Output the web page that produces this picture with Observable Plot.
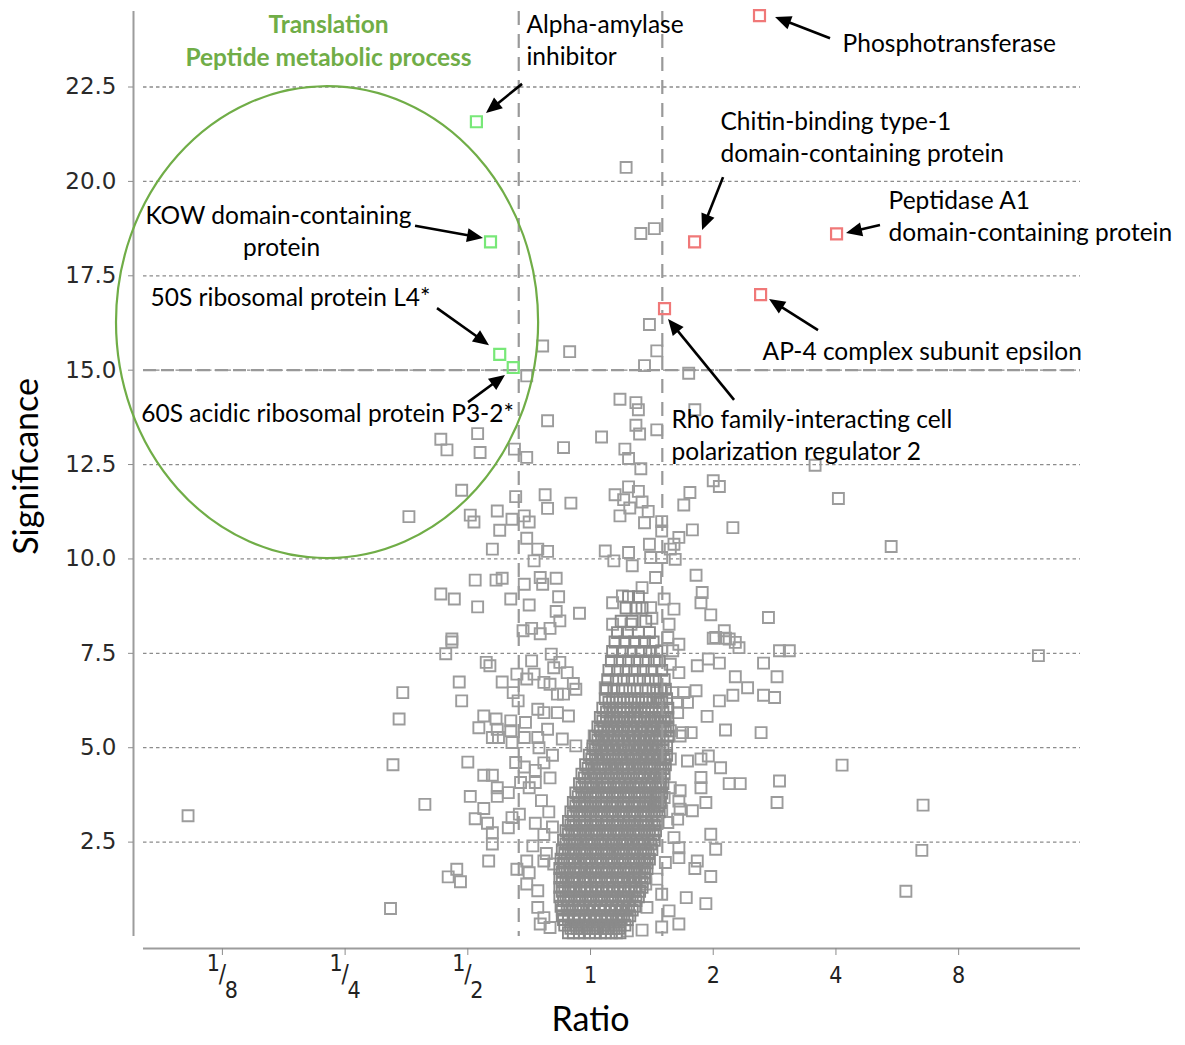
<!DOCTYPE html>
<html><head><meta charset="utf-8">
<script src="https://cdn.jsdelivr.net/npm/d3@7"></script>
<script src="https://cdn.jsdelivr.net/npm/@observablehq/plot@0.6"></script>
<style>body{margin:0;background:#fff} #chart svg{display:block}</style>
</head><body><div id="chart"></div>
<script>
// ---- axis ticks (x = log2 ratio) ----
const yTicks = [2.5, 5, 7.5, 10, 12.5, 15, 17.5, 20, 22.5];
const fracTicks = [-3, -2, -1];
const fracDen = ["8", "4", "2"];
const intTicks = [0, 1, 2, 3];
const intLabels = ["1", "2", "4", "8"];
const foldLines = [-0.585, 0.585];
const sigLine = [15];

// ---- highlighted proteins [log2 ratio, significance] ----
const greenPoints = [[-0.93, 21.58], [-0.815, 18.40], [-0.74, 15.42], [-0.63, 15.07]];
const redPoints = [[1.377, 24.39], [0.848, 18.40], [2.005, 18.61], [1.386, 17.0], [0.603, 16.63]];

// ---- scattered proteins [log2 ratio, significance] ----
const grayPoints = [
[-0.39,15.64],[-0.17,15.49],[-0.52,14.85],[-0.35,13.66],[-1.22,13.17],[-1.17,12.89],[-0.92,13.32],[-0.90,12.82],[-0.62,12.91],[-0.52,12.69],
[-0.22,12.95],[-1.05,11.82],[-0.61,11.65],[-0.37,11.70],[-0.35,11.34],[-0.16,11.48],[-1.48,11.12],[-0.98,11.16],[-0.95,10.98],[-0.76,11.27],
[-0.64,11.05],[-0.54,11.14],[-0.50,10.98],[-0.74,10.76],[-0.52,10.55],[-0.80,10.26],[-0.43,10.26],[-0.35,10.20],[-0.46,9.95],[-0.94,9.44],
[-0.77,9.44],[-0.72,9.49],[-0.54,9.33],[-0.41,9.51],[-0.39,9.33],[-0.28,9.49],[-1.22,9.07],[-1.11,8.94],[-0.92,8.73],[-0.65,8.94],
[-0.50,8.78],[-0.26,9.00],[-0.28,8.61],[-0.09,8.56],[-0.25,8.36],[-0.55,8.10],[-0.48,8.16],[-0.41,8.02],[-0.33,8.16],[-1.13,7.88],
[0.54,15.51],[0.44,15.12],[0.80,14.92],[0.24,14.23],[0.37,14.14],[0.39,13.95],[0.85,13.95],[0.37,13.54],[0.09,13.23],[0.40,13.31],
[0.54,13.42],[0.28,12.91],[0.31,12.66],[0.41,12.39],[1.00,12.07],[1.05,11.92],[0.31,11.91],[0.20,11.70],[0.39,11.79],[0.81,11.76],
[0.27,11.57],[0.42,11.51],[0.76,11.43],[0.47,11.26],[0.24,11.14],[0.32,11.35],[0.44,10.96],[0.58,10.99],[0.58,10.74],[0.83,10.77],
[1.16,10.83],[0.72,10.57],[0.68,10.39],[0.12,10.21],[0.31,10.17],[0.48,10.39],[0.65,10.26],[0.19,9.95],[0.34,9.82],[0.49,10.04],
[0.58,10.04],[0.69,9.99],[0.53,9.51],[0.86,9.57],[0.42,9.24],[0.26,9.02],[0.18,8.84],[0.91,9.11],[0.90,8.84],[0.49,8.71],
[0.60,8.94],[0.68,8.67],[0.98,8.52],[1.45,8.45],[0.18,8.27],[0.33,8.27],[0.50,8.43],[0.64,8.27],[1.02,7.92],[1.09,8.10],[1.13,7.88],
[-1.13,7.80],[-1.18,7.49],[-0.85,7.26],[-0.82,7.17],[-1.07,6.74],[-1.53,6.46],[-1.05,6.24],[-0.72,6.74],[-0.63,6.46],[-0.59,6.24],
[-0.60,6.95],[-0.48,7.30],[-0.46,6.95],[-0.32,7.48],[-0.30,7.12],[-0.25,7.26],[-0.19,6.99],[-0.14,6.70],[-0.12,6.55],[-0.52,6.82],
[-0.38,6.73],[-0.33,6.68],[-0.27,6.42],[-0.22,6.42],[-1.56,5.76],[-0.87,5.84],[-0.91,5.53],[-0.77,5.76],[-0.76,5.49],[-0.80,5.27],
[-0.75,5.27],[-0.65,5.71],[-0.65,5.45],[-0.64,5.14],[-0.53,5.67],[-0.43,6.02],[-0.38,5.93],[-0.27,5.93],[-0.18,5.84],[-0.35,5.49],
[-0.54,5.27],[-0.43,5.27],[-0.23,5.23],[-0.12,5.05],[-1.61,4.55],[-1.00,4.62],[-0.61,4.61],[-0.54,4.49],[-0.87,4.27],[-0.80,4.27],
[-0.76,3.94],[-0.67,3.81],[-0.76,3.71],[-0.57,4.08],[-0.50,3.94],[-0.45,4.08],[-0.98,3.71],[-1.35,3.50],[-0.87,3.39],[-0.94,3.12],
[-0.84,3.00],[-0.80,2.75],[-0.80,2.45],[-0.67,2.88],[-0.64,3.15],[-0.58,3.24],[-0.83,2.00],[-1.09,1.78],[-1.16,1.58],[-1.06,1.45],
[-1.63,0.74],[-0.60,1.78],[-0.52,2.00],[-0.50,1.69],[-0.52,1.39],[-0.43,1.21],[-0.43,0.77],[-0.38,0.50],[-0.41,0.33],[-0.33,0.24],
[-0.38,2.00],[-0.30,1.92],[-0.45,4.40],[-0.38,4.60],[-0.33,4.20],[-0.40,3.60],[-0.34,3.30],[-0.45,3.00],[-0.38,2.70],[-0.31,2.90],
[-0.47,2.40],[-0.36,2.20],[-0.42,5.00],[-0.31,4.80],
[1.54,7.57],[1.62,7.57],[1.41,7.24],[1.52,6.88],[1.41,6.39],[1.50,6.33],[1.39,5.40],[1.54,4.12],[1.52,3.55],[1.00,7.90],
[1.10,7.90],[1.18,7.79],[1.21,7.65],[0.87,7.17],[0.96,7.35],[1.05,7.24],[1.18,6.88],[1.28,6.59],[1.16,6.39],[1.05,6.24],
[0.86,6.51],[0.76,6.46],[0.67,6.46],[0.95,5.83],[1.10,5.47],[0.82,5.40],[0.73,5.31],[0.96,4.78],[1.06,4.47],[0.90,4.70],
[0.79,4.65],[0.90,4.21],[0.90,3.94],[1.13,4.05],[1.22,4.05],[0.94,3.55],[0.83,3.33],[0.72,3.59],[0.73,3.37],[0.98,2.71],
[1.02,2.31],[0.87,2.00],[0.85,1.80],[0.98,1.59],[0.72,2.35],[0.72,2.09],[0.61,1.96],[0.78,1.03],[0.94,0.87],[0.72,0.33],
[0.58,0.25],[0.42,0.17],[0.30,0.15],[0.64,0.68],[0.58,1.12],[0.54,1.52],[0.45,1.39],[0.46,0.77],[0.44,2.00],[0.68,2.62],
[0.63,3.02],[0.71,3.11],[0.58,3.33],[0.73,3.86],[0.65,3.94],[0.60,3.68],[0.65,4.70],[0.57,4.39],[0.75,5.40],[0.65,5.45],
[0.61,5.80],[0.71,5.93],[0.54,6.46],[0.56,6.20],[0.71,6.20],[0.79,6.20],[0.72,6.99],[0.65,7.21],[0.72,7.74],[0.63,7.92],
[0.58,7.57],[0.67,7.57],[0.12,6.59],[0.03,5.31],[0.11,5.31],[0.02,4.97],
[-3.28,3.20],[3.65,7.44],[2.71,3.48],[2.70,2.28],[2.57,1.20],[2.45,10.33],[2.02,11.60],[1.83,12.48],[2.05,4.54],
[0.29,20.37],[0.41,18.62],[0.52,18.75],[0.48,16.21]
];

// ---- dense core: each row is [significance, log2 ratios...] ----
const coreRows = [
[0.10,-0.18,-0.14,-0.09,-0.05,-0.01,0.04,0.08,0.12,0.17,0.21,0.24],
[0.22,-0.16,-0.11,-0.07,-0.03,0.02,0.06,0.10,0.14,0.19,0.23],
[0.30,-0.21,-0.16,-0.12,-0.07,-0.03,0.02,0.06,0.11,0.15,0.19,0.24,0.28],
[0.45,-0.22,-0.18,-0.14,-0.10,-0.05,-0.01,0.03,0.08,0.12,0.17,0.21,0.25,0.30],
[0.55,-0.23,-0.18,-0.13,-0.09,-0.04,0.00,0.05,0.09,0.14,0.18,0.23,0.27,0.32],
[0.70,-0.23,-0.17,-0.12,-0.08,-0.03,0.02,0.07,0.11,0.16,0.20,0.24,0.29,0.34],
[0.80,-0.24,-0.19,-0.15,-0.10,-0.06,-0.01,0.03,0.08,0.12,0.17,0.21,0.26,0.31,0.36],
[0.95,-0.22,-0.18,-0.13,-0.09,-0.04,0.00,0.05,0.09,0.14,0.18,0.23,0.27,0.32,0.37],
[1.05,-0.25,-0.20,-0.16,-0.11,-0.07,-0.02,0.02,0.07,0.11,0.16,0.20,0.25,0.29,0.34,0.39],
[1.20,-0.23,-0.18,-0.14,-0.09,-0.05,0.00,0.04,0.09,0.13,0.18,0.22,0.27,0.31,0.36,0.40],
[1.30,-0.25,-0.21,-0.16,-0.12,-0.08,-0.03,0.01,0.06,0.10,0.15,0.19,0.24,0.28,0.33,0.37,0.42],
[1.45,-0.23,-0.18,-0.13,-0.09,-0.05,0.00,0.05,0.09,0.14,0.18,0.23,0.27,0.32,0.37,0.42],
[1.55,-0.25,-0.20,-0.15,-0.11,-0.06,-0.02,0.03,0.07,0.12,0.16,0.21,0.25,0.30,0.35,0.40,0.44],
[1.70,-0.23,-0.19,-0.14,-0.10,-0.05,0.00,0.04,0.09,0.13,0.18,0.22,0.27,0.31,0.36,0.40,0.44],
[1.80,-0.25,-0.21,-0.17,-0.12,-0.08,-0.03,0.02,0.06,0.11,0.15,0.20,0.24,0.29,0.33,0.38,0.42,0.46],
[1.95,-0.22,-0.17,-0.13,-0.08,-0.03,0.01,0.06,0.10,0.15,0.19,0.24,0.28,0.33,0.37,0.42,0.46],
[2.05,-0.24,-0.19,-0.15,-0.10,-0.05,-0.01,0.04,0.08,0.13,0.17,0.22,0.26,0.31,0.35,0.40,0.44,0.48],
[2.20,-0.21,-0.16,-0.12,-0.07,-0.03,0.02,0.06,0.11,0.15,0.20,0.25,0.29,0.34,0.38,0.43,0.47],
[2.30,-0.23,-0.18,-0.14,-0.09,-0.05,0.00,0.04,0.09,0.13,0.18,0.23,0.27,0.32,0.36,0.41,0.45,0.50],
[2.45,-0.20,-0.15,-0.11,-0.06,-0.01,0.03,0.08,0.12,0.17,0.21,0.26,0.30,0.35,0.40,0.44,0.49],
[2.55,-0.22,-0.17,-0.13,-0.08,-0.03,0.01,0.06,0.10,0.15,0.19,0.24,0.28,0.33,0.38,0.42,0.47,0.52],
[2.70,-0.18,-0.13,-0.09,-0.04,0.01,0.05,0.10,0.14,0.19,0.23,0.28,0.32,0.37,0.41,0.46,0.51],
[2.80,-0.20,-0.15,-0.11,-0.06,-0.02,0.03,0.07,0.12,0.16,0.21,0.25,0.30,0.35,0.39,0.44,0.48,0.53],
[2.95,-0.16,-0.12,-0.07,-0.03,0.02,0.06,0.11,0.15,0.20,0.24,0.29,0.34,0.38,0.43,0.47,0.52],
[3.05,-0.18,-0.14,-0.09,-0.05,0.00,0.04,0.09,0.13,0.18,0.22,0.27,0.31,0.36,0.41,0.45,0.50,0.55],
[3.20,-0.14,-0.09,-0.05,0.00,0.05,0.09,0.14,0.18,0.23,0.27,0.32,0.36,0.41,0.45,0.50,0.54],
[3.30,-0.16,-0.11,-0.07,-0.02,0.02,0.07,0.11,0.16,0.20,0.25,0.29,0.34,0.38,0.43,0.47,0.52,0.56],
[3.45,-0.12,-0.07,-0.03,0.02,0.07,0.11,0.16,0.20,0.25,0.29,0.34,0.38,0.43,0.47,0.51,0.55],
[3.55,-0.14,-0.09,-0.05,0.00,0.04,0.09,0.13,0.18,0.22,0.27,0.31,0.36,0.40,0.45,0.49,0.53,0.57],
[3.70,-0.10,-0.05,0.00,0.04,0.09,0.13,0.18,0.22,0.27,0.31,0.36,0.40,0.45,0.49,0.53,0.56],
[3.80,-0.12,-0.07,-0.03,0.02,0.06,0.11,0.15,0.20,0.24,0.29,0.33,0.38,0.42,0.47,0.51,0.55,0.58],
[3.95,-0.07,-0.02,0.02,0.07,0.12,0.16,0.21,0.25,0.30,0.35,0.39,0.44,0.48,0.53,0.57],
[4.05,-0.09,-0.04,0.00,0.05,0.10,0.14,0.19,0.23,0.28,0.32,0.37,0.41,0.46,0.50,0.55,0.59],
[4.20,-0.05,0.00,0.05,0.10,0.14,0.19,0.24,0.28,0.33,0.38,0.42,0.47,0.52,0.57],
[4.30,-0.07,-0.02,0.03,0.07,0.12,0.17,0.21,0.26,0.31,0.35,0.40,0.44,0.49,0.54,0.60],
[4.45,-0.02,0.03,0.08,0.12,0.17,0.22,0.27,0.31,0.36,0.41,0.46,0.50,0.55,0.59],
[4.55,-0.04,0.01,0.06,0.10,0.15,0.20,0.25,0.29,0.34,0.39,0.43,0.48,0.52,0.57,0.61],
[4.70,0.01,0.06,0.11,0.16,0.21,0.25,0.30,0.35,0.40,0.45,0.50,0.55,0.60],
[4.80,-0.01,0.04,0.09,0.14,0.18,0.23,0.28,0.33,0.37,0.42,0.47,0.52,0.57,0.62],
[4.95,0.04,0.09,0.14,0.19,0.24,0.29,0.34,0.39,0.44,0.49,0.54,0.59],
[5.05,0.02,0.07,0.12,0.17,0.22,0.27,0.31,0.36,0.41,0.46,0.51,0.56,0.62],
[5.20,0.06,0.11,0.16,0.22,0.27,0.32,0.37,0.43,0.48,0.53,0.59],
[5.30,0.04,0.09,0.14,0.19,0.25,0.30,0.35,0.40,0.45,0.50,0.56,0.63],
[5.45,0.08,0.14,0.19,0.24,0.30,0.35,0.41,0.46,0.51,0.57,0.61],
[5.55,0.06,0.11,0.17,0.22,0.27,0.33,0.38,0.43,0.49,0.54,0.59,0.63],
[5.70,0.10,0.16,0.21,0.27,0.32,0.38,0.44,0.49,0.55,0.60],
[5.80,0.08,0.13,0.19,0.24,0.30,0.35,0.41,0.46,0.52,0.57,0.63],
[5.95,0.13,0.18,0.24,0.30,0.36,0.41,0.47,0.53,0.59],
[6.05,0.10,0.16,0.21,0.27,0.33,0.38,0.44,0.50,0.56,0.63],
[6.20,0.15,0.21,0.27,0.33,0.39,0.45,0.51,0.58],
[6.30,0.12,0.18,0.24,0.30,0.36,0.42,0.48,0.55,0.62],
[6.55,0.13,0.19,0.26,0.32,0.38,0.45,0.51,0.57,0.61],
[6.80,0.14,0.21,0.27,0.34,0.40,0.47,0.53,0.60],
[7.05,0.15,0.22,0.29,0.36,0.43,0.50,0.58],
[7.30,0.17,0.24,0.31,0.38,0.45,0.52,0.56],
[7.55,0.18,0.26,0.33,0.41,0.48,0.54],
[7.80,0.20,0.28,0.36,0.44,0.51],
[8.05,0.22,0.30,0.39,0.48],
[8.35,0.25,0.34,0.45],
[8.70,0.29,0.37,0.42],
[9.00,0.31,0.39]
];

// ---- annotations (data units) ----
const startLabels = [
  {x: -0.522, y: 24.13, t: "Alpha-amylase"}, {x: -0.522, y: 23.28, t: "inhibitor"},
  {x: 2.054, y: 23.63, t: "Phosphotransferase"},
  {x: 1.059, y: 21.56, t: "Chitin-binding type-1"}, {x: 1.059, y: 20.71, t: "domain-containing protein"},
  {x: 2.429, y: 19.47, t: "Peptidase A1"}, {x: 2.429, y: 18.62, t: "domain-containing protein"},
  {x: 1.402, y: 15.49, t: "AP-4 complex subunit epsilon"},
  {x: 0.660, y: 13.67, t: "Rho family-interacting cell"}, {x: 0.660, y: 12.82, t: "polarization regulator 2"}
];
const middleLabels = [
  {x: -2.543, y: 19.07, t: "KOW domain-containing"}, {x: -2.518, y: 18.22, t: "protein"},
  {x: -2.445, y: 16.90, t: "50S ribosomal protein L4*"},
  {x: -2.143, y: 13.83, t: "60S acidic ribosomal protein P3-2*"}
];
const groupTitle = [{x: -2.135, y: 24.13, t: "Translation"}, {x: -2.135, y: 23.26, t: "Peptide metabolic process"}];
const arrows = [
  {x1: -0.554, y1: 22.57, x2: -0.848, y2: 21.80},
  {x1: 1.956, y1: 23.78, x2: 1.508, y2: 24.34},
  {x1: 1.084, y1: 20.10, x2: 0.913, y2: 18.70},
  {x1: 2.363, y1: 18.83, x2: 2.086, y2: 18.62},
  {x1: 1.858, y1: 16.05, x2: 1.459, y2: 16.87},
  {x1: 1.174, y1: 14.20, x2: 0.636, y2: 16.34},
  {x1: -1.426, y1: 18.81, x2: -0.872, y2: 18.49},
  {x1: -1.247, y1: 16.63, x2: -0.823, y2: 15.65},
  {x1: -0.994, y1: 14.14, x2: -0.693, y2: 14.86}
];
const groupEllipse = {cx: -2.143, cy: 16.26, rx: 1.72, ry: 6.25};

const corePoints = coreRows.flatMap(([s, ...xs]) => xs.map(x => [x, s]));
const x0 = -3.643, x1 = 3.993;
const lato = "Lato, 'Open Sans', sans-serif";
const tickFont = "'Liberation Sans Narrow', 'DejaVu Sans Condensed', 'Liberation Sans', sans-serif";

const ellipseMark = (index, scales) => {
  const cx = scales.x(groupEllipse.cx), cy = scales.y(groupEllipse.cy);
  const rx = Math.abs(scales.x(groupEllipse.cx + groupEllipse.rx) - cx);
  const ry = Math.abs(scales.y(groupEllipse.cy + groupEllipse.ry) - cy);
  return d3.create("svg:ellipse").attr("cx", cx).attr("cy", cy).attr("rx", rx).attr("ry", ry)
    .attr("fill", "none").attr("stroke", "#70ad47").attr("stroke-width", 2.2).node();
};
const arrowMark = (index, scales) => {
  const g = d3.create("svg:g");
  for (const a of arrows) {
    const ax = scales.x(a.x1), ay = scales.y(a.y1), bx = scales.x(a.x2), by = scales.y(a.y2);
    const dx = bx - ax, dy = by - ay, L = Math.hypot(dx, dy), ux = dx / L, uy = dy / L;
    const hl = 16, hw = 7;
    const cx = bx - ux * hl, cy = by - uy * hl;
    g.append("line").attr("x1", ax).attr("y1", ay).attr("x2", cx + ux * 2).attr("y2", cy + uy * 2)
      .attr("stroke", "black").attr("stroke-width", 2.6);
    g.append("polygon").attr("points", [[bx, by], [cx - uy * hw, cy + ux * hw], [cx + uy * hw, cy - ux * hw]].map(p => p.join(",")).join(" "))
      .attr("fill", "black");
  }
  return g.node();
};

const dotStyle = {x: d => d[0], y: d => d[1], symbol: "square", r: 6.2, fill: "none", strokeWidth: 1.9};
const allTicks = [...fracTicks, ...intTicks];

const chart = Plot.plot({
  width: 1185, height: 1045,
  marginLeft: 143, marginRight: 105, marginTop: 11, marginBottom: 109,
  x: {domain: [x0, x1], axis: null},
  y: {domain: [0, 24.5], axis: null},
  style: {background: "white", overflow: "visible"},
  marks: [
    Plot.ruleY(yTicks, {stroke: "#8c8c8c", strokeWidth: 1.3, strokeDasharray: "3.5,3"}),
    Plot.ruleY([0], {dy: 12, stroke: "#9c9c9c", strokeWidth: 2}),
    Plot.ruleX([x0], {dx: -10, stroke: "#9c9c9c", strokeWidth: 2}),
    Plot.axisY({ticks: yTicks, tickFormat: d3.format(".1f"), tickSize: 5, tickPadding: 12, dx: -10,
      stroke: "#8c8c8c", fill: "#2a2a2a", fontSize: 23, fontFamily: "'DejaVu Sans', sans-serif", label: null}),
    Plot.axisX({ticks: allTicks, tickFormat: () => "", tickSize: 7, dy: 12, stroke: "#8c8c8c", label: null}),
    Plot.text(fracTicks, {x: d => d, text: () => "1", frameAnchor: "bottom", dx: -9, dy: 34, fontSize: 23, fontFamily: tickFont, fill: "#222"}),
    Plot.text(fracTicks, {x: d => d, text: () => "/", frameAnchor: "bottom", dx: 0, dy: 45, fontSize: 24, fontFamily: tickFont, fill: "#222"}),
    Plot.text(fracTicks, {x: d => d, text: (d, i) => fracDen[i], frameAnchor: "bottom", dx: 9, dy: 61, fontSize: 23, fontFamily: tickFont, fill: "#222"}),
    Plot.text(intTicks, {x: d => d, text: (d, i) => intLabels[i], frameAnchor: "bottom", dy: 46, fontSize: 23, fontFamily: tickFont, fill: "#222"}),
    Plot.text(["Ratio"], {x: () => 0, frameAnchor: "bottom", dy: 94, fontSize: 34, fontFamily: lato, fill: "black"}),
    Plot.text(["Significance"], {y: () => 12.45, frameAnchor: "left", textAnchor: "middle", dx: -116, rotate: -90, fontSize: 34, fontFamily: lato, fill: "black"}),
    Plot.dot(grayPoints, {...dotStyle, stroke: "#9c9c9c"}),
    Plot.dot(corePoints, {...dotStyle, stroke: "#8a8a8a"}),
    Plot.ruleX(foldLines, {stroke: "#999", strokeWidth: 2.2, strokeDasharray: "14,9"}),
    Plot.ruleY(sigLine, {stroke: "#999", strokeWidth: 2.2, strokeDasharray: "13,5"}),
    Plot.dot(greenPoints, {...dotStyle, stroke: "#78e878", strokeWidth: 2.2}),
    Plot.dot(redPoints, {...dotStyle, stroke: "#f07878", strokeWidth: 2.2}),
    ellipseMark,
    arrowMark,
    Plot.text(startLabels, {x: "x", y: "y", text: "t", textAnchor: "start", fontSize: 24.5, fontFamily: lato, fill: "black"}),
    Plot.text(middleLabels, {x: "x", y: "y", text: "t", textAnchor: "middle", fontSize: 24.5, fontFamily: lato, fill: "black"}),
    Plot.text(groupTitle, {x: "x", y: "y", text: "t", textAnchor: "middle", fontSize: 24.5, fontWeight: "bold", fontFamily: lato, fill: "#70ad47"})
  ]
});
document.getElementById("chart").append(chart);
</script>
</body></html>
